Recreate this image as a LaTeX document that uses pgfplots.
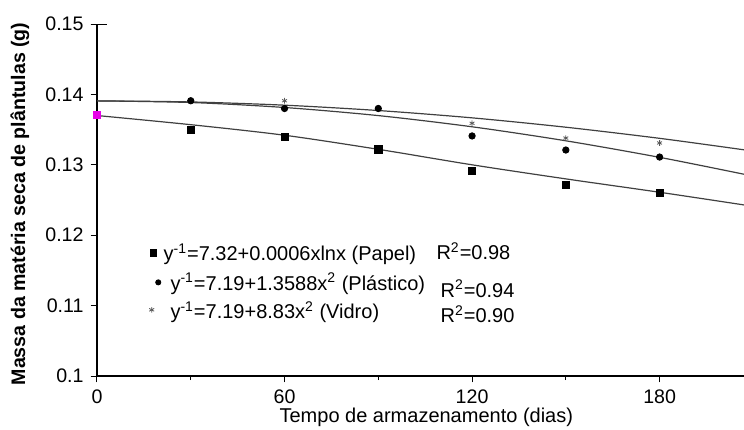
\documentclass[border=0pt]{standalone}
\usepackage{fontspec}
\setmainfont{Liberation Sans}
\usepackage{pgfplots}
\pgfplotsset{compat=1.18}
\definecolor{lncol}{gray}{0.25}
\definecolor{pink}{RGB}{232,0,232}

\begin{document}
\begin{tikzpicture}
  \begin{axis}[
      scale only axis,
      width=323.5pt, height=176pt,
      xmin=0, xmax=207, ymin=0.1, ymax=0.15,
      axis lines*=left,
      axis line style={black, line width=0.6pt},
      xtick={0,60,120,180}, minor xtick={30,90,150},
      ytick={0.1,0.11,0.12,0.13,0.14,0.15},
      yticklabels={0.1,0.11,0.12,0.13,0.14,0.15},
      tick align=outside,
      major tick length=3.2pt, minor tick length=2pt,
      tick style={black, line width=0.5pt},
      tick label style={font=\fontsize{9.8}{11}\selectfont},
      /pgf/number format/assume math mode=true,
      xlabel={Tempo de armazenamento (dias)},
      ylabel={\bfseries Massa da matéria seca de plântulas (g)},
      xlabel style={font=\fontsize{10}{12}\selectfont, at={(axis description cs:0.509,-0.118)}, anchor=center},
      ylabel style={font=\fontsize{9.8}{12}\selectfont, at={(axis description cs:-0.119,0.489)}, anchor=center},
      clip=false,
    ]
    \coordinate (O) at (rel axis cs:0,0);
    % fitted curves
    \addplot[lncol, line width=0.6pt, smooth] coordinates
      {(0,0.13908)(30,0.13893)(60,0.13847)(90,0.13771)(120,0.13667)(150,0.13534)(180,0.13376)(207,0.13213)};
    \addplot[lncol, line width=0.6pt, smooth] coordinates
      {(0,0.13908)(30,0.13885)(60,0.13814)(90,0.13699)(120,0.13540)(150,0.13341)(180,0.13106)(207,0.12866)};
    \addplot[lncol, line width=0.6pt, smooth] coordinates
      {(0,0.1370)(30,0.1357)(60,0.1342)(90,0.1322)(120,0.1300)(150,0.1280)(180,0.1261)(207,0.1243)};
    % observed values
    \addplot[only marks, mark=square*, mark size=1.8pt, black] coordinates
      {(30,0.1350)(60,0.1340)(90,0.1322)(120,0.1291)(150,0.1271)(180,0.1260)};
    \addplot[only marks, mark=square*, mark size=1.8pt, pink] coordinates {(0,0.1371)};
    \addplot[only marks, mark=*, mark size=1.6pt, black] coordinates
      {(30,0.1391)(60,0.1380)(90,0.1380)(120,0.1341)(150,0.1321)(180,0.1311)};
    \addplot[only marks, mark=asterisk, mark size=1.4pt, black!65, mark options={line width=0.4pt}] coordinates
      {(60,0.1391)(120,0.1359)(150,0.1338)(180,0.1331)};
    % legend symbols
    \addplot[only marks, mark=square*, mark size=1.6pt, black] coordinates {(18,0.1175)};
    \addplot[only marks, mark=*, mark size=1.3pt, black] coordinates {(19.6,0.1133)};
    \addplot[only marks, mark=asterisk, mark size=1.4pt, black!65, mark options={line width=0.4pt}] coordinates {(17.5,0.1094)};
    \draw[line width=0.5pt] ([xshift=-3.2pt]axis cs:0,0.15) -- ([xshift=5pt]axis cs:0,0.15);
    \begin{scope}[every node/.style={anchor=west, inner sep=0pt, font=\fontsize{10}{12}\selectfont}]
      \node at (axis cs:21.2,0.1173) {y\textsuperscript{-1}=7.32+0.0006xlnx (Papel)};
      \node at (axis cs:23.4,0.1131) {y\textsuperscript{-1}=7.19+1.3588x\textsuperscript{2} (Plástico)};
      \node at (axis cs:23.4,0.1091) {y\textsuperscript{-1}=7.19+8.83x\textsuperscript{2} (Vidro)};
      \node at (axis cs:108.5,0.1177) {R\textsuperscript{2}=0.98};
      \node at (axis cs:109.8,0.1124) {R\textsuperscript{2}=0.94};
      \node at (axis cs:109.8,0.1088) {R\textsuperscript{2}=0.90};
    \end{scope}
  \end{axis}
  \pgfresetboundingbox
  \path[use as bounding box] ([shift={(-48.5pt,-26.5pt)}]O) rectangle ([shift={(323.5pt,188pt)}]O);
\end{tikzpicture}
\end{document}
